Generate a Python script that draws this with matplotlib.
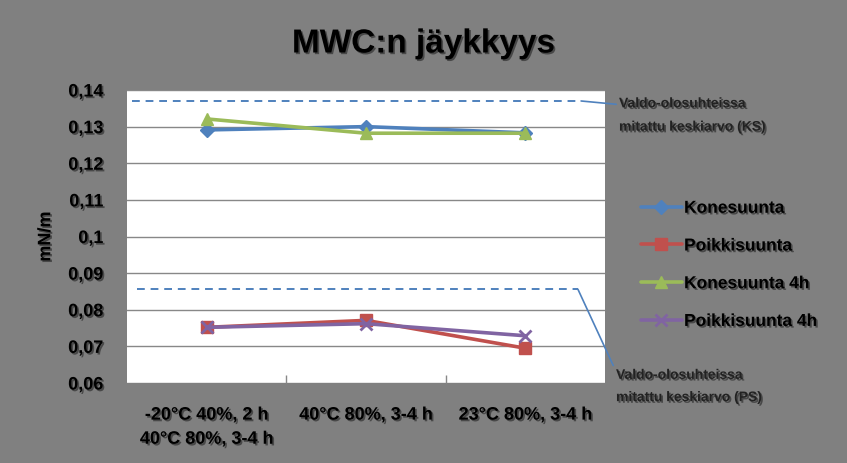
import matplotlib
matplotlib.use("Agg")
import matplotlib.pyplot as plt
import matplotlib.patheffects as pe
import numpy as np

categories = ["-20°C 40%, 2 h\n40°C 80%, 3-4 h", "40°C 80%, 3-4 h", "23°C 80%, 3-4 h"]
konesuunta = [0.1291, 0.1300, 0.1283]
poikkisuunta = [0.0752, 0.0771, 0.0695]
konesuunta_4h = [0.1321, 0.1282, 0.1282]
poikkisuunta_4h = [0.0752, 0.0762, 0.0729]
series_names = ["Konesuunta", "Poikkisuunta", "Konesuunta 4h", "Poikkisuunta 4h"]
ks_ref = 0.1370
ps_ref = 0.0856
yticks = [0.06, 0.07, 0.08, 0.09, 0.10, 0.11, 0.12, 0.13, 0.14]
ytick_labels = ["0,06", "0,07", "0,08", "0,09", "0,1", "0,11", "0,12", "0,13", "0,14"]
ref_text_ks = "Valdo-olosuhteissa\nmitattu keskiarvo (KS)"
ref_text_ps = "Valdo-olosuhteissa\nmitattu keskiarvo (PS)"

FONT = "Liberation Sans"
shadow = [pe.withSimplePatchShadow(offset=(1.2, -1.2), shadow_rgbFace="#3a3a3a", alpha=0.8)]
bg = "#808080"

fig = plt.figure(figsize=(8.47, 4.64), dpi=100)
fig.patch.set_facecolor(bg)
ax = fig.add_axes([127/847, 1-384/464, (605-127)/847, (384-91)/464])
ax.set_facecolor("white")
for s in ax.spines.values():
    s.set_visible(False)

x = np.arange(len(categories))
ax.set_xlim(-0.5, len(categories)-0.5)
ax.set_ylim(0.06, 0.14)
ax.set_yticks(yticks)
ax.set_yticklabels(ytick_labels, fontfamily=FONT, fontweight="bold", fontsize=13, color="black")
ax.tick_params(axis="y", length=0, pad=17)
ax.yaxis.grid(True, color="#888888", lw=1)
ax.set_axisbelow(True)
ax.set_xticks(x)
ax.set_xticklabels(categories, fontfamily=FONT, fontweight="bold", fontsize=13, color="black", linespacing=1.55)
ax.tick_params(axis="x", length=0, pad=17)
ax.set_xticks([0.5, 1.5], minor=True)
ax.tick_params(axis="x", which="minor", direction="in", length=6, color="#888888", width=1)
for lab in ax.get_yticklabels() + ax.get_xticklabels():
    lab.set_path_effects(shadow)

colors = ["#4F81BD", "#C0504D", "#9BBB59", "#8064A2"]
markers = ["D", "s", "^", "x"]
msizes = [7, 9, 9, 9]
for vals, name, c, m, ms in zip([konesuunta, poikkisuunta, konesuunta_4h, poikkisuunta_4h],
                                series_names, colors, markers, msizes):
    ax.plot(x, vals, color=c, lw=2.6, marker=m, ms=ms, mew=2 if m == "x" else 1,
            label=name, solid_capstyle="round")

ref_c = "#4F81BD"
ax.plot([-0.47, 2.35], [ks_ref, ks_ref], color=ref_c, lw=1.4, ls=(0, (4, 3)))
ax.plot([-0.44, 2.33], [ps_ref, ps_ref], color=ref_c, lw=1.4, ls=(0, (4, 3)))

t1 = ax.annotate(ref_text_ks, xy=(2.35, ks_ref), xycoords="data",
                 xytext=(619/847, 1-116/464), textcoords="figure fraction",
                 ha="left", va="center", fontsize=10, fontweight="bold", fontfamily=FONT,
                 linespacing=1.85, color="#222222",
                 arrowprops=dict(arrowstyle="-", color=ref_c, lw=1.2, shrinkA=0, shrinkB=0,
                                 relpos=(0, 0.78)))
t2 = ax.annotate(ref_text_ps, xy=(2.33, ps_ref), xycoords="data",
                 xytext=(616/847, 1-387/464), textcoords="figure fraction",
                 ha="left", va="center", fontsize=10, fontweight="bold", fontfamily=FONT,
                 linespacing=1.75, color="#222222",
                 arrowprops=dict(arrowstyle="-", color=ref_c, lw=1.2, shrinkA=0, shrinkB=0,
                                 relpos=(0, 0.9)))
for t in (t1, t2):
    t.set_path_effects(shadow)
    t.set_annotation_clip(False)

ax.set_ylabel("mN/m", fontfamily=FONT, fontweight="bold", fontsize=13, labelpad=10)
ax.yaxis.label.set_path_effects(shadow)

fig.text(424/847, 1-45/464, "MWC:n jäykkyys", ha="center", va="center",
         fontsize=24, fontweight="bold", fontfamily=FONT, path_effects=shadow)

leg = fig.legend(loc="upper left", bbox_to_anchor=(625/847, 1-186/464),
                 frameon=False, prop=dict(family=FONT, weight="bold", size=12.5),
                 labelspacing=1.3, handlelength=2.4, handletextpad=0.1)
for t in leg.get_texts():
    t.set_path_effects(shadow)

fig.savefig("out.png", dpi=100, facecolor=bg)
